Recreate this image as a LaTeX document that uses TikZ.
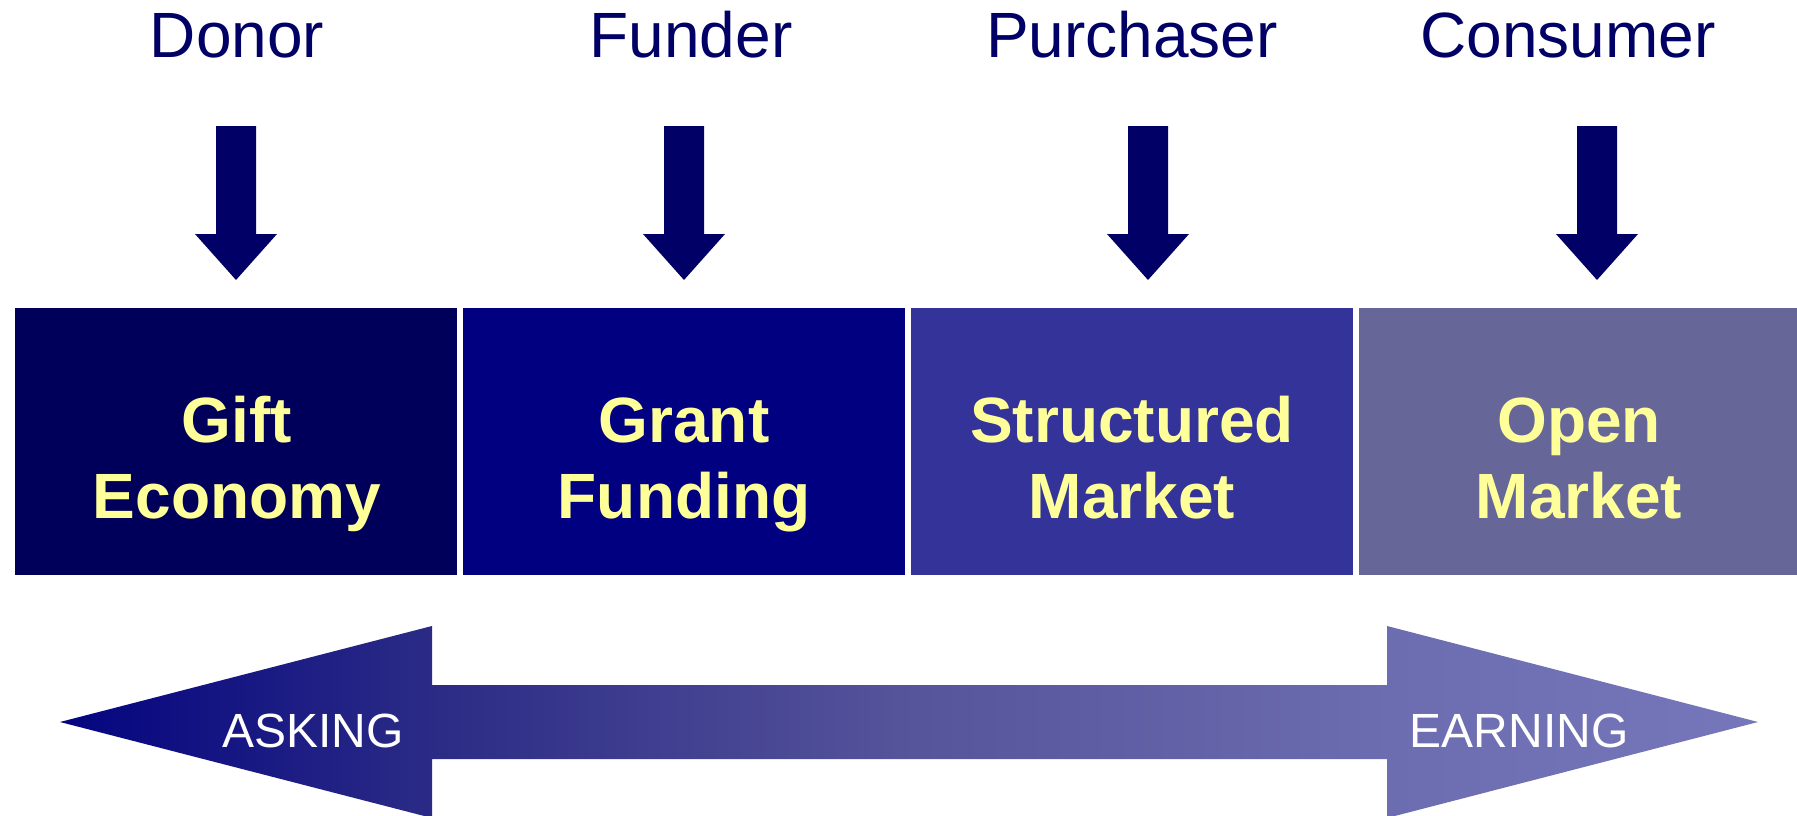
\documentclass[tikz,border=0pt]{standalone}
\usepackage{fontspec}
\setmainfont{Liberation Sans}
\definecolor{labelblue}{HTML}{000066}
\definecolor{boxa}{HTML}{00005A}
\definecolor{boxb}{HTML}{000080}
\definecolor{boxc}{HTML}{333399}
\definecolor{boxd}{HTML}{666699}
\definecolor{textyellow}{HTML}{FFFF99}
\definecolor{gradl}{HTML}{040480}
\definecolor{gradlb}{HTML}{2B2B86}
\definecolor{gradm}{HTML}{55539A}
\definecolor{gradrb}{HTML}{6C6CB0}
\definecolor{gradr}{HTML}{7676BA}
\pgfdeclarehorizontalshading{arrowshade}{100bp}{color(0bp)=(gradl); color(25bp)=(gradl); color(35.95bp)=(gradlb); color(49.7bp)=(gradm); color(64.1bp)=(gradrb); color(75bp)=(gradr); color(100bp)=(gradr)}
\begin{document}
\begin{tikzpicture}[x=1pt,y=-1pt,
  role/.style={font=\fontsize{64}{64}\selectfont, text=labelblue, anchor=base, inner sep=0pt},
  stage/.style={minimum width=442pt, minimum height=267pt, inner sep=0pt, draw=none},
  stagetext/.style={font=\bfseries\fontsize{64}{64}\selectfont, text=textyellow, anchor=base, inner sep=0pt},
  downarrow/.style={fill=labelblue},
  dirlabel/.style={text=white, font=\fontsize{48}{48}\selectfont, anchor=base, inner sep=0pt}]
\useasboundingbox (0,0) rectangle (1797,816);
\fill[white] (0,0) rectangle (1797,816);

% role labels
\node[role] (donor) at (237,58) {Donor};
\node[role] (funder) at (691,58) {Funder};
\node[role] (purch) at (1132,58) {Purchaser};
\node[role] (cons) at (1568,58) {Consumer};

% down arrows
\foreach \cx in {236,684,1148,1597}{
  \fill[downarrow] (\cx-20,126) -- (\cx+20,126) -- (\cx+20,234) -- (\cx+41,234)
    -- (\cx,280) -- (\cx-41,234) -- (\cx-20,234) -- cycle;
}

% stage boxes
\node[stage, fill=boxa] (b1) at (236,441.5) {};
\node[stage, fill=boxb] (b2) at (684,441.5) {};
\node[stage, fill=boxc] (b3) at (1132,441.5) {};
\node[stage, fill=boxd] (b4) at (1580,441.5) {};

\node[stagetext] (t1a) at (237,442) {Gift};
\node[stagetext] (t1b) at (237,518) {Economy};
\node[stagetext] (t2a) at (684,442) {Grant};
\node[stagetext] (t2b) at (684,518) {Funding};
\node[stagetext] (t3a) at (1132,442) {Structured};
\node[stagetext] (t3b) at (1132,518) {Market};
\node[stagetext] (t4a) at (1579,442) {Open};
\node[stagetext] (t4b) at (1579,518) {Market};

% double arrow
\shade[shading=arrowshade]
  (60,722) -- (432,626) -- (432,685) -- (1387,685) -- (1387,626) -- (1758,722)
  -- (1387,818) -- (1387,759) -- (432,759) -- (432,818) -- cycle;

\node[dirlabel] (ask) at (313,747) {ASKING};
\node[dirlabel] (earn) at (1519,747) {EARNING};
\end{tikzpicture}
\end{document}
